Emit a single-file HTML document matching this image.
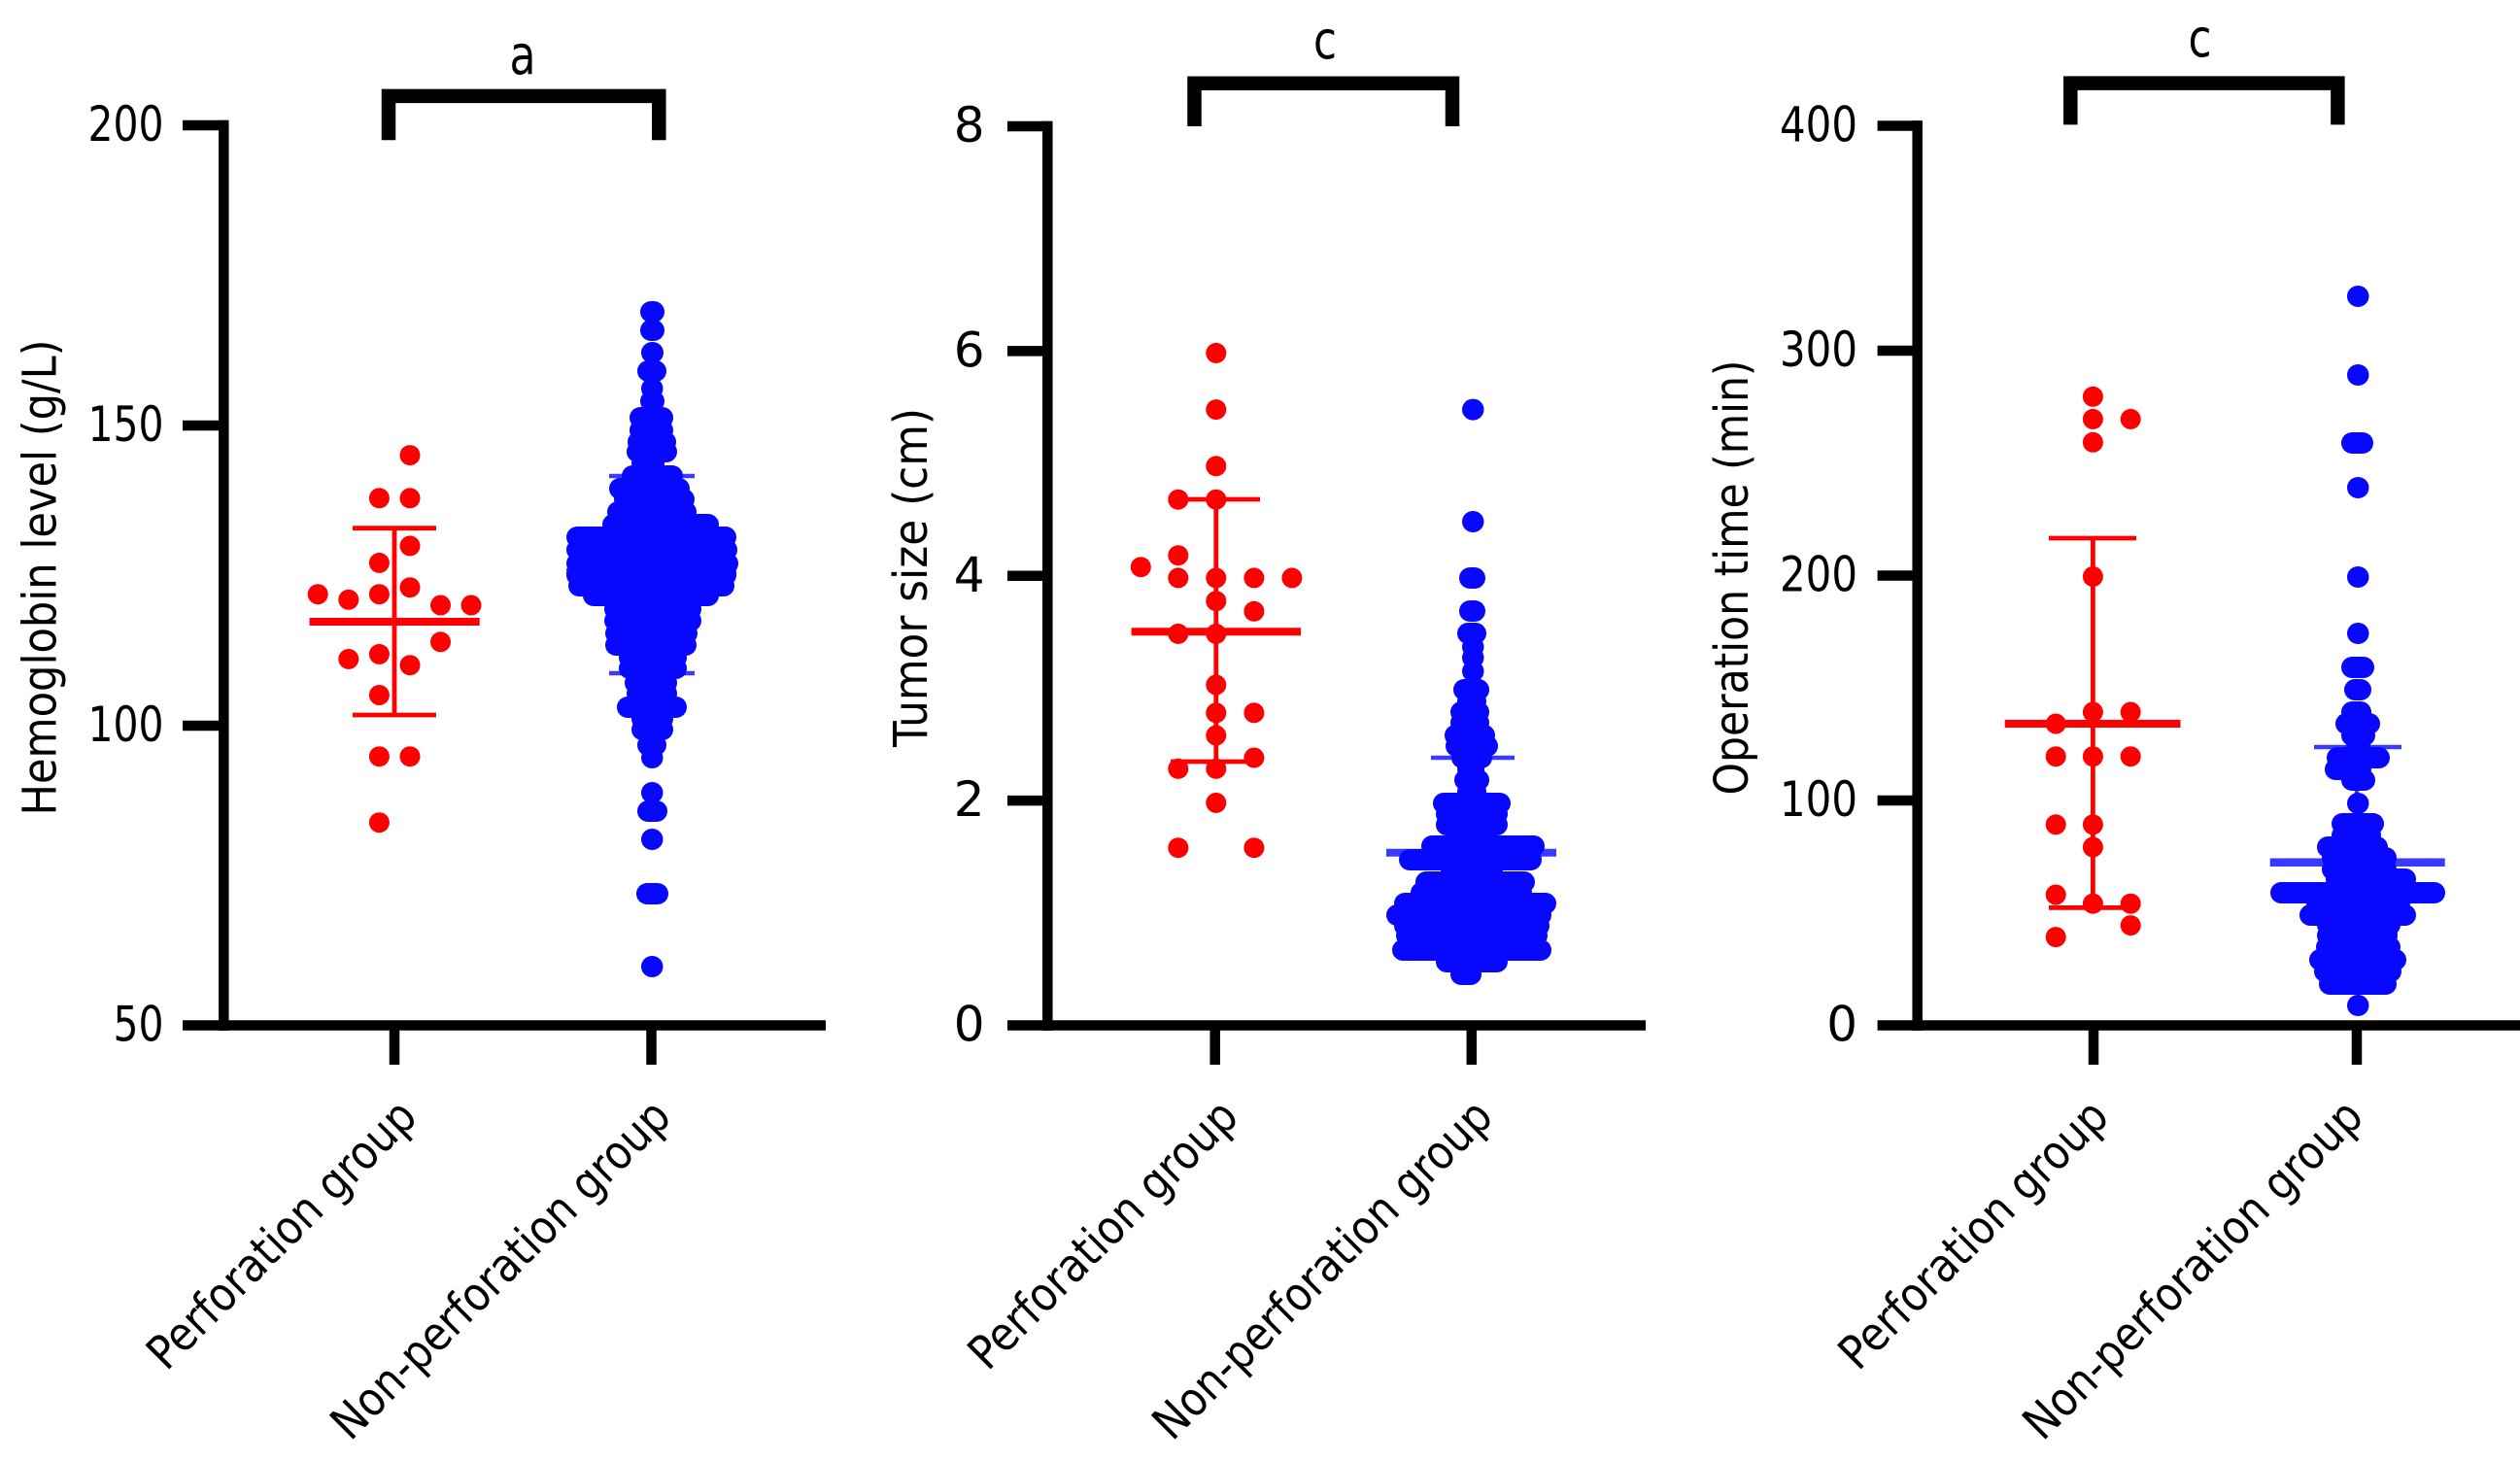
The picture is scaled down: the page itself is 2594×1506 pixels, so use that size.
<!DOCTYPE html>
<html>
<head>
<meta charset="utf-8">
<style>
html,body{margin:0;padding:0;background:#fff;}
svg{display:block;}
text{font-family:"DejaVu Sans","Liberation Sans",sans-serif;fill:#000;}
</style>
</head>
<body>
<svg width="2594" height="1506" viewBox="0 0 2594 1506" xmlns="http://www.w3.org/2000/svg">
<rect x="0" y="0" width="2594" height="1506" fill="#fff"/>

<!-- ================= PANEL 1 ================= -->
<g fill="none" stroke="#000" stroke-width="10.5" stroke-linecap="butt">
  <path d="M230.3 123.75V1060.75"/>
  <path d="M225 1055.5H850"/>
  <path d="M188 129H235 M188 438H235 M188 747H235 M188 1055.5H235"/>
  <path d="M406 1055V1096 M670.5 1055V1096"/>
</g>
<g font-size="50" text-anchor="end">
  <text x="168.5" y="145" textLength="78" lengthAdjust="spacingAndGlyphs">200</text>
  <text x="168.5" y="454" textLength="78" lengthAdjust="spacingAndGlyphs">150</text>
  <text x="168.5" y="763" textLength="78" lengthAdjust="spacingAndGlyphs">100</text>
  <text x="168.5" y="1071.5" textLength="52" lengthAdjust="spacingAndGlyphs">50</text>
</g>
<text transform="translate(57.5 594.5) rotate(-90)" text-anchor="middle" font-size="48" textLength="490" lengthAdjust="spacingAndGlyphs">Hemoglobin level (g/L)</text>
<text transform="translate(431.5 1152) rotate(-45)" text-anchor="end" font-size="48" textLength="368" lengthAdjust="spacingAndGlyphs">Perforation group</text>
<text transform="translate(693 1152) rotate(-45)" text-anchor="end" font-size="48" textLength="470" lengthAdjust="spacingAndGlyphs">Non-perforation group</text>
<path d="M400 144.3V98.85H678.3V144.3" fill="none" stroke="#000" stroke-width="14.5" stroke-linejoin="miter"/>
<text x="538" y="76" text-anchor="middle" font-size="56" textLength="27" lengthAdjust="spacingAndGlyphs">a</text>

<!-- P1 red -->
<g stroke="#ff0000" fill="none">
  <path d="M318.6 640H493.7" stroke-width="8"/>
  <path d="M406 543.7V736 M363 543.7H449 M363 736H449" stroke-width="4.8"/>
</g>
<g fill="#ff0000">
  <circle cx="422" cy="468.6" r="10.5"/>
  <circle cx="390.4" cy="512.8" r="10.5"/>
  <circle cx="422" cy="512.8" r="10.5"/>
  <circle cx="422" cy="561.9" r="10.5"/>
  <circle cx="390.4" cy="579.4" r="10.5"/>
  <circle cx="422" cy="604.7" r="10.5"/>
  <circle cx="327.2" cy="611.7" r="10.5"/>
  <circle cx="358.8" cy="617.3" r="10.5"/>
  <circle cx="390.4" cy="611.7" r="10.5"/>
  <circle cx="453.5" cy="623" r="10.5"/>
  <circle cx="485" cy="623" r="10.5"/>
  <circle cx="453.5" cy="660.8" r="10.5"/>
  <circle cx="358.8" cy="678.4" r="10.5"/>
  <circle cx="390.4" cy="673.4" r="10.5"/>
  <circle cx="422" cy="684.7" r="10.5"/>
  <circle cx="390.4" cy="715.5" r="10.5"/>
  <circle cx="390.4" cy="778.7" r="10.5"/>
  <circle cx="422" cy="778.7" r="10.5"/>
  <circle cx="390.4" cy="846.7" r="10.5"/>
</g>

<!-- P1 blue -->
<g stroke="#3a3aff" fill="none">
  <path d="M583 589H758" stroke-width="8"/>
  <path d="M627 490H715 M627 693H715 M671 490V693" stroke-width="4.5"/>
</g>
<path fill="none" stroke="#0808ff" stroke-width="22" stroke-linecap="round"
 d="M670 321H673 M670 340H673 M671 363H672 M667 382H675 M671 400H671.5 M670 413H673 M659 430H682 M659 443H682 M657 455H685 M656 465H686 M661 477H673 M651 490H692 M638 503H699 M643 514H704 M636 527H706 M631 540H729 M594 553H747 M594 566H748 M594 580H749 M594 592H747 M596 603H745 M611 613H729 M633 627H711 M633 639H711 M634 652H707 M634 664H706 M648 677H696 M648 688H696 M654 703H686 M656 714H686 M646 728H696 M661 740H682 M661 751H682 M667 767H675 M671 780H671.5 M671 816H671.5 M667 835H676 M671 864H671.5 M666 920H677 M671 995H671.5"/>

<!-- ================= PANEL 2 ================= -->
<g fill="none" stroke="#000" stroke-width="10.5" stroke-linecap="butt">
  <path d="M1078.3 124.75V1060.75"/>
  <path d="M1073 1055.5H1694"/>
  <path d="M1037 130H1083 M1037 361.4H1083 M1037 592.75H1083 M1037 824.1H1083 M1037 1055.5H1083"/>
  <path d="M1250.7 1055V1096 M1514.8 1055V1096"/>
</g>
<g font-size="50" text-anchor="end">
  <text x="1013.5" y="146">8</text>
  <text x="1013.5" y="377.4">6</text>
  <text x="1013.5" y="608.75">4</text>
  <text x="1013.5" y="840.1">2</text>
  <text x="1013.5" y="1071.5">0</text>
</g>
<text transform="translate(954 594.5) rotate(-90)" text-anchor="middle" font-size="48" textLength="349" lengthAdjust="spacingAndGlyphs">Tumor size (cm)</text>
<text transform="translate(1277 1152) rotate(-45)" text-anchor="end" font-size="48" textLength="368" lengthAdjust="spacingAndGlyphs">Perforation group</text>
<text transform="translate(1539 1152) rotate(-45)" text-anchor="end" font-size="48" textLength="470" lengthAdjust="spacingAndGlyphs">Non-perforation group</text>
<path d="M1229.5 130V85.8H1495V130" fill="none" stroke="#000" stroke-width="14.5" stroke-linejoin="miter"/>
<text x="1364" y="60" text-anchor="middle" font-size="54" textLength="24" lengthAdjust="spacingAndGlyphs">c</text>

<!-- P2 red -->
<g stroke="#ff0000" fill="none">
  <path d="M1164.6 650.3H1339" stroke-width="8"/>
  <path d="M1251.8 514V784 M1205 514H1297 M1205 784H1297" stroke-width="4.8"/>
</g>
<g fill="#ff0000">
  <circle cx="1251.8" cy="363.4" r="10.5"/>
  <circle cx="1251.8" cy="421.6" r="10.5"/>
  <circle cx="1251.8" cy="479.8" r="10.5"/>
  <circle cx="1212.8" cy="514.2" r="10.5"/>
  <circle cx="1251.8" cy="514.2" r="10.5"/>
  <circle cx="1212.8" cy="571.7" r="10.5"/>
  <circle cx="1174.3" cy="583.7" r="10.5"/>
  <circle cx="1212.8" cy="594.9" r="10.5"/>
  <circle cx="1251.8" cy="594.9" r="10.5"/>
  <circle cx="1290.9" cy="594.9" r="10.5"/>
  <circle cx="1329.9" cy="594.9" r="10.5"/>
  <circle cx="1251.8" cy="618.7" r="10.5"/>
  <circle cx="1290.9" cy="629.3" r="10.5"/>
  <circle cx="1212.8" cy="652.4" r="10.5"/>
  <circle cx="1251.8" cy="652.4" r="10.5"/>
  <circle cx="1251.8" cy="705" r="10.5"/>
  <circle cx="1251.8" cy="733.8" r="10.5"/>
  <circle cx="1290.9" cy="733.8" r="10.5"/>
  <circle cx="1251.8" cy="757" r="10.5"/>
  <circle cx="1290.9" cy="780" r="10.5"/>
  <circle cx="1212.8" cy="791.3" r="10.5"/>
  <circle cx="1251.8" cy="791.3" r="10.5"/>
  <circle cx="1251.8" cy="826.4" r="10.5"/>
  <circle cx="1212.8" cy="872.7" r="10.5"/>
  <circle cx="1290.9" cy="872.7" r="10.5"/>
</g>

<!-- P2 blue -->
<g stroke="#3a3aff" fill="none">
  <path d="M1427 877.7H1602" stroke-width="8"/>
  <path d="M1473 780H1559 M1515.5 780V975" stroke-width="4.5"/>
</g>
<path fill="none" stroke="#0808ff" stroke-width="22" stroke-linecap="round"
 d="M1516 421.6h0.5 M1516 537h0.5 M1513 595H1518 M1513 629H1518 M1511 652H1519 M1516 666h0.5 M1516 677h0.5 M1516 691h0.5 M1507 710H1522 M1511 722H1519 M1504 733H1522 M1504 744H1522 M1498 757H1528 M1499 768H1531 M1505 780H1525 M1511 792H1517 M1508 803H1522 M1511 815H1519 M1486 827H1544 M1489 838H1541 M1489 849H1541 M1510 860H1520 M1474 871H1579 M1451 885H1576 M1494 897H1536 M1468 908H1569 M1463 919H1566 M1446 930H1591 M1438 942H1586 M1446 953H1584 M1448 963H1582 M1444 978H1586 M1489 990H1541 M1504 1003H1514"/>

<!-- ================= PANEL 3 ================= -->
<g fill="none" stroke="#000" stroke-width="10.5" stroke-linecap="butt">
  <path d="M1973.7 124.25V1060.75"/>
  <path d="M1968.5 1055.5H2594"/>
  <path d="M1932.6 129.5H1978.5 M1932.6 361H1978.5 M1932.6 592.5H1978.5 M1932.6 824H1978.5 M1932.6 1055.5H1978.5"/>
  <path d="M2155 1055V1096 M2426 1055V1096"/>
</g>
<g font-size="50" text-anchor="end">
  <text x="1912" y="145.5" textLength="80" lengthAdjust="spacingAndGlyphs">400</text>
  <text x="1912" y="377" textLength="80" lengthAdjust="spacingAndGlyphs">300</text>
  <text x="1912" y="608.5" textLength="80" lengthAdjust="spacingAndGlyphs">200</text>
  <text x="1912" y="840" textLength="80" lengthAdjust="spacingAndGlyphs">100</text>
  <text x="1912" y="1071.5">0</text>
</g>
<text transform="translate(1799 594.5) rotate(-90)" text-anchor="middle" font-size="48" textLength="448" lengthAdjust="spacingAndGlyphs">Operation time (min)</text>
<text transform="translate(2173 1152) rotate(-45)" text-anchor="end" font-size="48" textLength="368" lengthAdjust="spacingAndGlyphs">Perforation group</text>
<text transform="translate(2435 1152) rotate(-45)" text-anchor="end" font-size="48" textLength="470" lengthAdjust="spacingAndGlyphs">Non-perforation group</text>
<path d="M2131.3 128.4V85.6H2406.4V128.4" fill="none" stroke="#000" stroke-width="14.5" stroke-linejoin="miter"/>
<text x="2264.5" y="58" text-anchor="middle" font-size="54" textLength="24" lengthAdjust="spacingAndGlyphs">c</text>

<!-- P3 red -->
<g stroke="#ff0000" fill="none">
  <path d="M2063.7 745H2244.5" stroke-width="8"/>
  <path d="M2154.4 554V934.4 M2109 554H2199 M2109 934.4H2199" stroke-width="4.8"/>
</g>
<g fill="#ff0000">
  <circle cx="2154.4" cy="408.3" r="10.5"/>
  <circle cx="2154.4" cy="431.4" r="10.5"/>
  <circle cx="2193.2" cy="431.4" r="10.5"/>
  <circle cx="2154.4" cy="455.3" r="10.5"/>
  <circle cx="2154.4" cy="593.5" r="10.5"/>
  <circle cx="2116.2" cy="745" r="10.5"/>
  <circle cx="2154.4" cy="733" r="10.5"/>
  <circle cx="2193.2" cy="733" r="10.5"/>
  <circle cx="2116.2" cy="778.7" r="10.5"/>
  <circle cx="2154.4" cy="778.7" r="10.5"/>
  <circle cx="2193.2" cy="778.7" r="10.5"/>
  <circle cx="2116.2" cy="848.8" r="10.5"/>
  <circle cx="2154.4" cy="848.8" r="10.5"/>
  <circle cx="2154.4" cy="872" r="10.5"/>
  <circle cx="2116.2" cy="921" r="10.5"/>
  <circle cx="2154.4" cy="930.2" r="10.5"/>
  <circle cx="2193.2" cy="930.2" r="10.5"/>
  <circle cx="2193.2" cy="952.6" r="10.5"/>
  <circle cx="2116.2" cy="964.6" r="10.5"/>
</g>

<!-- P3 blue -->
<g stroke="#3a3aff" fill="none">
  <path d="M2336.7 887.7H2516.7" stroke-width="8.5"/>
  <path d="M2382 769H2472 M2426 769V1005" stroke-width="4.5"/>
</g>
<path fill="none" stroke="#0808ff" stroke-width="22" stroke-linecap="round"
 d="M2427 305h0.5 M2427 386h0.5 M2421 456H2432 M2427 502h0.5 M2427 594h0.5 M2427 652h0.5 M2421 687H2433 M2424 710H2430 M2421 733H2430 M2415 745H2439 M2421 757H2434 M2426 769H2429 M2406 780H2449 M2404 792H2430 M2421 803H2434 M2427 827h0.5 M2411 848H2443 M2411 860H2440 M2396 872H2447 M2401 883H2456 M2401 895H2456 M2405 905H2476 M2348 919H2506 M2385 930H2470 M2378 942H2476 M2396 952H2460 M2396 963H2457 M2395 975H2460 M2388 988H2466 M2393 1000H2461 M2398 1013H2456 M2427 1035h0.5"/>

</svg>
</body>
</html>
